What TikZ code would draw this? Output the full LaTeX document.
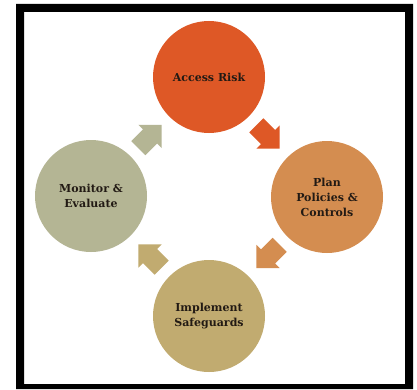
\documentclass[tikz,border=0pt]{standalone}
\usepackage{fontspec}
\setmainfont{DejaVu Serif}
\usetikzlibrary{calc}
\definecolor{colA}{HTML}{DE5826}
\definecolor{colP}{HTML}{D48D50}
\definecolor{colI}{HTML}{C1AB70}
\definecolor{colM}{HTML}{B4B594}
\definecolor{txt}{HTML}{221A14}
\tikzset{
  stage/.style={circle, minimum size=112pt, inner sep=0pt, fill=#1,
    text=txt, font=\bfseries\fontsize{11}{15}\selectfont, align=center},
  blockarrow/.pic={\fill[#1] (-16.5pt,-10pt) -- (0pt,-10pt) -- (0pt,-16.5pt) -- (16.5pt,0pt)
      -- (0pt,16.5pt) -- (0pt,10pt) -- (-16.5pt,10pt) -- cycle;}
}
\begin{document}
\begin{tikzpicture}[x=1pt,y=1pt]
\useasboundingbox (0,0) rectangle (417,389);
\fill[white] (0,0) rectangle (417,389);
% frame
\fill[black, even odd rule] (16,0) rectangle (413,385) (24,5) rectangle (405,377);
% stages
\node[stage=colA] (A) at (209,312) {Access Risk};
\node[stage=colP] (P) at (327,192) {Plan\\Policies \&\\Controls};
\node[stage=colI] (I) at (209,73) {Implement\\Safeguards};
\node[stage=colM] (M) at (91,193) {Monitor \&\\Evaluate};
% arrows
\pic[rotate=-45] at ($(A)!0.5!(P)$) {blockarrow=colA};
\pic[rotate=-135] at ($(P)!0.5!(I)$) {blockarrow=colP};
\pic[rotate=135] at ($(I)!0.5!(M)$) {blockarrow=colI};
\pic[rotate=45] at ($(M)!0.5!(A)$) {blockarrow=colM};
\end{tikzpicture}
\end{document}
